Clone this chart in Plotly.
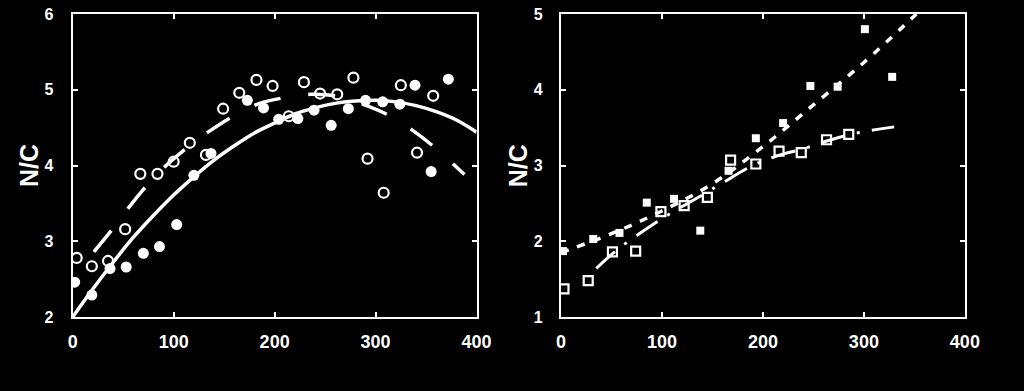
import plotly.graph_objects as go

# ---------------- Left panel data ----------------
left_open_x = [4, 19, 35, 52, 67, 84, 100, 116, 132, 149, 165, 182, 198, 214, 229, 245, 262, 278, 292, 308, 325, 341, 357]
left_open_y = [2.78, 2.67, 2.74, 3.16, 3.89, 3.89, 4.05, 4.30, 4.14, 4.75, 4.96, 5.13, 5.05, 4.65, 5.10, 4.95, 4.94, 5.16, 4.09, 3.64, 5.06, 4.17, 4.92]

left_fill_x = [2, 19, 37, 53, 70, 86, 103, 120, 137, 173, 189, 204, 223, 239, 256, 273, 290, 307, 324, 339, 355, 372]
left_fill_y = [2.46, 2.29, 2.64, 2.66, 2.84, 2.93, 3.22, 3.87, 4.16, 4.86, 4.76, 4.61, 4.62, 4.73, 4.53, 4.75, 4.86, 4.84, 4.81, 5.06, 3.92, 5.14]

left_fit_x = [0, 20, 40, 60, 80, 100, 120, 140, 160, 180, 200, 220, 240, 260, 280, 300, 320, 340, 360, 380, 400]
left_fit_y = [2.0, 2.37, 2.72, 3.05, 3.34, 3.61, 3.85, 4.07, 4.26, 4.43, 4.56, 4.68, 4.76, 4.82, 4.85, 4.86, 4.84, 4.79, 4.71, 4.60, 4.44]

left_dash_x = [21, 40, 60, 84, 110, 134, 160, 185, 212, 236, 260, 285, 312, 336, 362, 388]
left_dash_y = [2.86, 3.17, 3.52, 3.89, 4.20, 4.44, 4.66, 4.82, 4.90, 4.94, 4.92, 4.82, 4.67, 4.47, 4.20, 3.88]

# ---------------- Right panel data ----------------
right_fill_x = [2, 32, 58, 85, 112, 138, 166, 193, 220, 247, 274, 301, 328]
right_fill_y = [1.87, 2.03, 2.11, 2.51, 2.56, 2.14, 2.93, 3.36, 3.56, 4.05, 4.04, 4.80, 4.17]

right_open_x = [3, 27, 51, 74, 99, 122, 145, 168, 193, 216, 238, 263, 285]
right_open_y = [1.37, 1.48, 1.86, 1.87, 2.39, 2.47, 2.58, 3.07, 3.02, 3.19, 3.17, 3.34, 3.41]

right_dot_x = [0, 50, 100, 150, 200, 250, 300, 352]
right_dot_y = [1.85, 2.10, 2.40, 2.76, 3.25, 3.80, 4.36, 5.0]

right_dd_x = [35, 55, 90, 110, 140, 160, 190, 215, 240, 265, 290, 315, 330]
right_dd_y = [1.64, 1.88, 2.21, 2.38, 2.61, 2.77, 3.00, 3.13, 3.22, 3.33, 3.42, 3.48, 3.51]

x_ticks = [0, 100, 200, 300, 400]
left_y_ticks = [2, 3, 4, 5, 6]
right_y_ticks = [1, 2, 3, 4, 5]

W = "white"
fig = go.Figure()

# Left panel
fig.add_trace(go.Scatter(x=left_fit_x, y=left_fit_y, mode="lines", line=dict(color=W, width=3.5, shape="spline"),
                         xaxis="x", yaxis="y", showlegend=False))
fig.add_trace(go.Scatter(x=left_dash_x, y=left_dash_y, mode="lines",
                         line=dict(color=W, width=3.5, shape="spline", dash="27px,28px"),
                         xaxis="x", yaxis="y", showlegend=False))
fig.add_trace(go.Scatter(x=left_fill_x, y=left_fill_y, mode="markers",
                         marker=dict(symbol="circle", size=11, color=W, line=dict(width=0)),
                         xaxis="x", yaxis="y", showlegend=False))
fig.add_trace(go.Scatter(x=left_open_x, y=left_open_y, mode="markers",
                         marker=dict(symbol="circle-open", size=10, color=W, line=dict(width=2.2, color=W)),
                         xaxis="x", yaxis="y", showlegend=False))

# Right panel
fig.add_trace(go.Scatter(x=right_dot_x, y=right_dot_y, mode="lines",
                         line=dict(color=W, width=3.5, shape="spline", dash="8px,9px"),
                         xaxis="x2", yaxis="y2", showlegend=False))
fig.add_trace(go.Scatter(x=right_dd_x, y=right_dd_y, mode="lines",
                         line=dict(color=W, width=3, shape="spline", dash="25px,12px,3px,12px"),
                         xaxis="x2", yaxis="y2", showlegend=False))
fig.add_trace(go.Scatter(x=right_fill_x, y=right_fill_y, mode="markers",
                         marker=dict(symbol="square", size=8, color=W, line=dict(width=0)),
                         xaxis="x2", yaxis="y2", showlegend=False))
fig.add_trace(go.Scatter(x=right_open_x, y=right_open_y, mode="markers",
                         marker=dict(symbol="square-open", size=9, color=W, line=dict(width=2.2, color=W)),
                         xaxis="x2", yaxis="y2", showlegend=False))

tick_font_x = dict(family="Liberation Sans, Arial, sans-serif", size=18, color=W, weight="bold")
tick_font_y = dict(family="Liberation Sans, Arial, sans-serif", size=16, color=W, weight="bold")

common_x = dict(range=[0, 400], tickvals=x_ticks, showgrid=False, zeroline=False, showline=True,
                linecolor=W, linewidth=2, mirror="ticks", ticks="inside", ticklen=5, tickwidth=2,
                tickcolor=W, tickfont=tick_font_x, ticklabelstandoff=7, fixedrange=True)
common_y = dict(showgrid=False, zeroline=False, showline=True, linecolor=W, linewidth=2, mirror="ticks",
                ticks="inside", ticklen=5, tickwidth=2, tickcolor=W, tickfont=tick_font_y,
                fixedrange=True)

fig.update_layout(
    width=1024, height=391,
    paper_bgcolor="black", plot_bgcolor="black",
    margin=dict(l=0, r=0, t=14, b=74),
    xaxis=dict(domain=[69 / 1024, 481 / 1024], anchor="y", **common_x),
    yaxis=dict(domain=[0, 1], anchor="x", range=[2, 6], tickvals=left_y_ticks, ticklabelstandoff=14, **common_y),
    xaxis2=dict(domain=[567 / 1024, 979 / 1024], anchor="y2", **common_x),
    yaxis2=dict(domain=[0, 1], anchor="x2", range=[1, 5], tickvals=right_y_ticks, ticklabelstandoff=13, **common_y),
    annotations=[
        dict(text="N/C", xref="paper", yref="paper", x=24 / 1024, y=0.5, textangle=-90,
             showarrow=False, xanchor="center", yanchor="middle",
             font=dict(family="Liberation Sans, Arial, sans-serif", size=25, color=W, weight="bold")),
        dict(text="N/C", xref="paper", yref="paper", x=523 / 1024, y=0.5, textangle=-90,
             showarrow=False, xanchor="center", yanchor="middle",
             font=dict(family="Liberation Sans, Arial, sans-serif", size=25, color=W, weight="bold")),
    ],
)

fig.write_html("out.html")
